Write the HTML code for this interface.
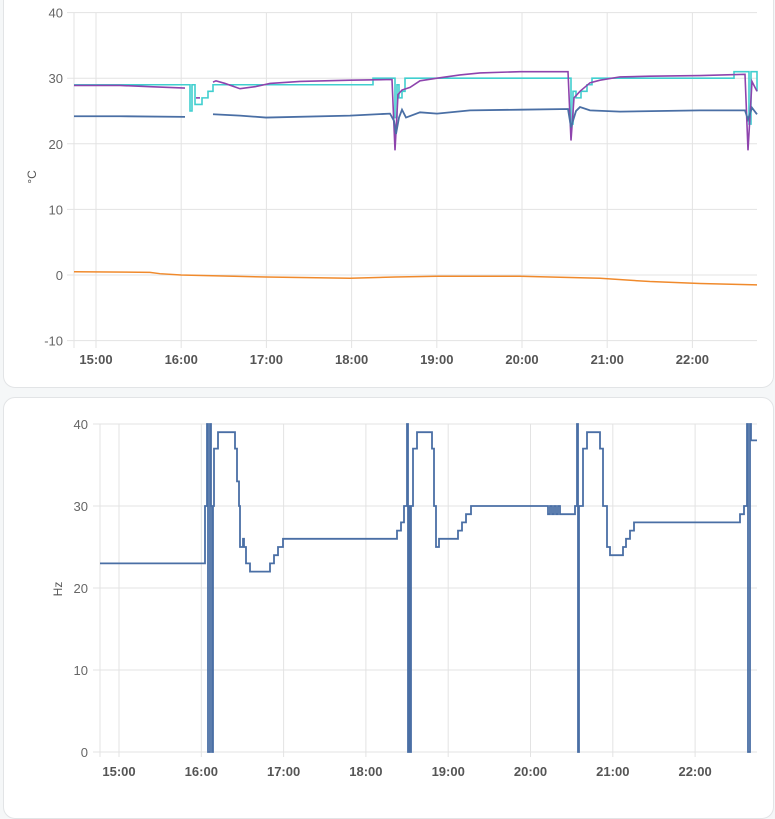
<!DOCTYPE html>
<html><head><meta charset="utf-8"><style>
body{margin:0;background:#f5f7f8;width:775px;height:800px;overflow:hidden;font-family:"Liberation Sans",Roboto,sans-serif}
.card{position:absolute;left:3px;width:769px;background:#fff;border:1px solid #e2e4e6;border-radius:12px}
svg{position:absolute;left:0;top:0}
</style></head><body>
<div class="card" style="top:-20px;height:406px"></div>
<div class="card" style="top:397px;height:420px"></div>
<svg id="s" width="775" height="800" font-family="Liberation Sans, sans-serif"></svg>
<script>
const s=document.getElementById('s');let h='';
// top chart
const ty=v=>275-v*6.56;
for(const v of [40,30,20,10,0,-10]){h+=`<line x1="67" x2="757" y1="${ty(v)}" y2="${ty(v)}" stroke="#e3e3e3"/>`;h+=`<text x="63" y="${ty(v)+5}" font-size="13" fill="#666" text-anchor="end">${v}</text>`;}
h+=`<line x1="74" x2="74" y1="13" y2="348" stroke="#e3e3e3"/>`;
const labs=['15:00','16:00','17:00','18:00','19:00','20:00','21:00','22:00'];
labs.forEach((l,i)=>{const x=96+i*85.2;h+=`<line x1="${x}" x2="${x}" y1="13" y2="348" stroke="#e3e3e3"/><text x="${x}" y="364" font-size="13" font-weight="bold" fill="#555" text-anchor="middle">${l}</text>`;});
h+=`<text transform="translate(36,177) rotate(-90)" font-size="12" fill="#555" text-anchor="middle">°C</text>`;
function line(pts,fy,col,step,w){let d='';pts.forEach((p,i)=>{if(p===null){return;}const X=p[0],Y=fy(p[1]);if(i==0||pts[i-1]===null)d+=`M${X},${Y}`;else{if(step)d+=`H${X}`;d+=`V${Y}`.replace('V','L'+X+',').replace(/L([\d.]+),/,'L$1,');}});return `<path d="${d}" fill="none" stroke="${col}" stroke-width="${w||1.6}"/>`;}
function stepPath(pts,fy,col,w){let d=`M${pts[0][0]},${fy(pts[0][1])}`;for(let i=1;i<pts.length;i++){d+=`H${pts[i][0]}V${fy(pts[i][1])}`;}return `<path d="${d}" fill="none" stroke="${col}" stroke-width="${w}"/>`;}
function poly(pts,fy,col,w){return `<polyline points="${pts.map(p=>p[0]+','+fy(p[1])).join(' ')}" fill="none" stroke="${col}" stroke-width="${w}"/>`;}
// orange
h+=poly([[74,0.5],[150,0.4],[160,0.2],[181,0],[266,-0.3],[350,-0.5],[395,-0.3],[437,-0.2],[520,-0.2],[600,-0.5],[650,-1],[700,-1.3],[757,-1.5]],ty,'#f08a2c',1.5);
// cyan
h+=stepPath([[74,29],[190,25],[192,29],[195,26],[202,27],[208,28],[213,29],[373,30],[395,24],[397,29],[399,27],[402,28],[405,30],[571,23],[573,28],[576,27],[581,28],[587,29],[592,30],[734,31],[749,23],[751,31],[757,28]],ty,'#40cfcf',1.6);
// purple
h+=poly([[74,28.9],[120,28.9],[150,28.7],[185,28.5]],ty,'#8e44ad',1.6);
h+=poly([[196,27],[200,27]],ty,'#8e44ad',1.6);
h+=poly([[213,29.4],[216,29.6],[225,29.2],[240,28.4],[255,28.7],[270,29.2],[300,29.5],[350,29.7],[392,29.8],[395,19],[398,27.5],[402,28.2],[410,28.6],[420,29.6],[437,30],[460,30.5],[480,30.8],[520,31],[568,31],[571,20.5],[574,27],[580,28],[590,29.3],[600,29.7],[620,30.2],[650,30.3],[700,30.4],[745,30.6],[748,19],[752,29.5],[757,28]],ty,'#8e44ad',1.6);
// blue
h+=poly([[74,24.2],[120,24.2],[185,24.1]],ty,'#4a6fa5',1.8);
h+=poly([[213,24.5],[240,24.3],[266,24],[350,24.3],[390,24.6],[394,23.5],[396,21.5],[399,24],[402,25.2],[406,24],[420,24.8],[437,24.6],[470,25.1],[520,25.2],[568,25.3],[571,22.5],[576,25],[580,25.6],[590,25.1],[620,24.9],[700,25.1],[745,25.1],[748,23.7],[752,25.5],[757,24.5]],ty,'#4a6fa5',1.8);
// bottom chart
const by=v=>752-v*8.2;
for(const v of [40,30,20,10,0]){h+=`<line x1="93" x2="757" y1="${by(v)}" y2="${by(v)}" stroke="#e3e3e3"/>`;h+=`<text x="88" y="${by(v)+5}" font-size="13" fill="#666" text-anchor="end">${v}</text>`;}
h+=`<line x1="100" x2="100" y1="424" y2="757" stroke="#e3e3e3"/>`;
labs.forEach((l,i)=>{const x=119+i*82.3;h+=`<line x1="${x}" x2="${x}" y1="424" y2="757" stroke="#e3e3e3"/><text x="${x}" y="776" font-size="13" font-weight="bold" fill="#555" text-anchor="middle">${l}</text>`;});
h+=`<text transform="translate(62,589) rotate(-90)" font-size="12" fill="#555" text-anchor="middle">Hz</text>`;
h+=stepPath([[100,23],[205,30],[207,40],[208,0],[210,40],[211,30],[212,0],[213,30],[214,37],[218,39],[235,37],[237,33],[239,30],[240,25],[243,26],[244,25],[246,23],[250,22],[270,23],[274,24],[278,25],[283,26],[397,27],[401,28],[404,30],[407,40],[408,0],[409,30],[410,0],[411,30],[413,37],[417,39],[432,37],[434,30],[436,25],[439,26],[458,27],[462,28],[466,29],[471,30],[548,29],[550,30],[552,29],[554,30],[556,29],[558,30],[560,29],[562,29],[575,30],[577,40],[578,0],[579,30],[583,37],[587,39],[600,37],[603,30],[607,25],[610,24],[623,25],[626,26],[630,27],[634,28],[740,29],[744,30],[747,40],[748,0],[750,40],[751,38],[757,38]],by,'#4a6fa5',1.8);
s.innerHTML=h;
</script>
</body></html>
